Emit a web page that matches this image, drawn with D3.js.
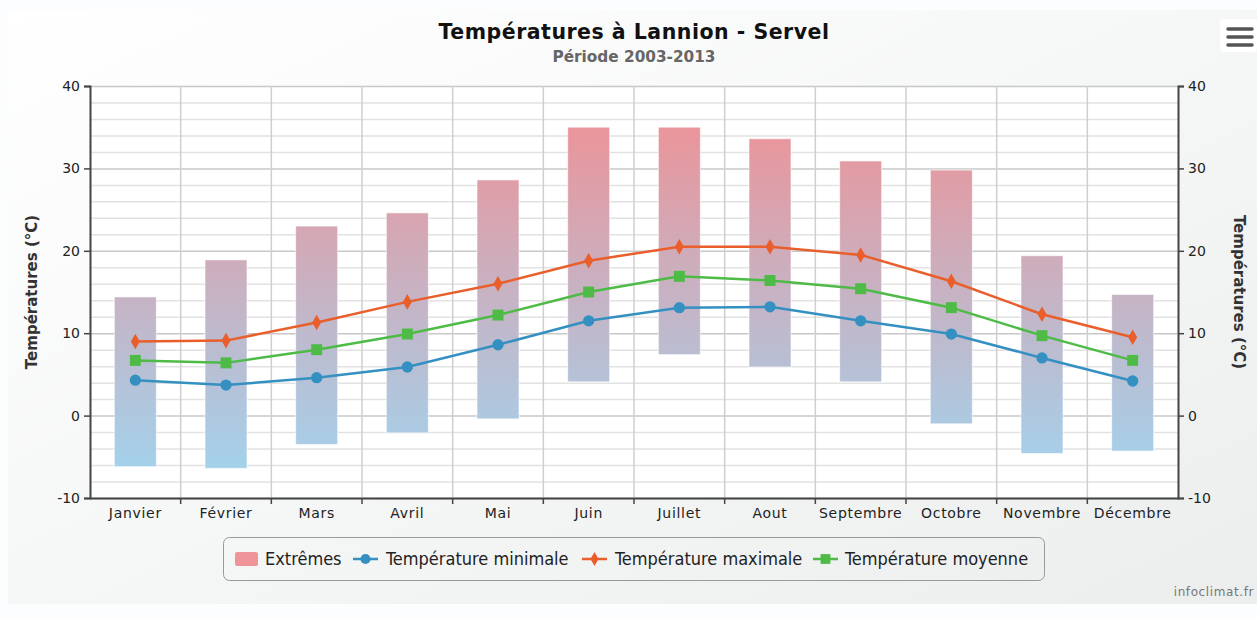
<!DOCTYPE html>
<html><head><meta charset="utf-8">
<script src="https://cdn.jsdelivr.net/npm/d3@7/dist/d3.min.js"></script>
<style>html,body{margin:0;padding:0;background:#fff;}svg{display:block;}</style>
</head><body><svg id="c" width="1257" height="619"></svg>
<script>
const months = ["Janvier","Février","Mars","Avril","Mai","Juin","Juillet","Aout","Septembre","Octobre","Novembre","Décembre"];
const extremeLow  = [-6.2,-6.4,-3.5,-2.1,-0.4,4.1,7.4,5.9,4.1,-1.0,-4.6,-4.3];
const extremeHigh = [14.4,18.9,23.0,24.6,28.6,35.0,35.0,33.6,30.9,29.8,19.4,14.7];
const tempMin  = [4.3,3.7,4.6,5.9,8.6,11.5,13.1,13.2,11.5,9.9,7.0,4.2];
const tempMax  = [9.0,9.1,11.3,13.8,16.0,18.8,20.5,20.5,19.5,16.3,12.3,9.5];
const tempMean = [6.7,6.4,8.0,9.9,12.2,15.0,16.9,16.4,15.4,13.1,9.7,6.7];
const yTicks = [-10,0,10,20,30,40];
const legendLabels = ["Extrêmes","Température minimale","Température maximale","Température moyenne"];

const svg = d3.select("#c");
const defs = svg.append("defs");
const bg = defs.append("linearGradient").attr("id","bg").attr("x1","0").attr("y1","0").attr("x2","1").attr("y2","1");
bg.append("stop").attr("offset","0").attr("stop-color","#ffffff");
bg.append("stop").attr("offset","1").attr("stop-color","#eceeee");

const L=90,R=1178,T=86,B=498;
const x = d3.scaleBand().domain(months).range([L,R]);
const y = d3.scaleLinear().domain([-10,40]).range([B,T]);

const bar = defs.append("linearGradient").attr("id","bar").attr("gradientUnits","userSpaceOnUse")
  .attr("x1",0).attr("x2",0).attr("y1",y(36)).attr("y2",y(-7));
bar.append("stop").attr("offset","0").attr("stop-color","#ec9398");
bar.append("stop").attr("offset","0.5").attr("stop-color","#c6b3c4");
bar.append("stop").attr("offset","1").attr("stop-color","#a3d2ec");

svg.append("rect").attr("width",1257).attr("height",619).attr("fill","#fbfdff");
svg.append("rect").attr("x",8).attr("y",10).attr("width",1249).attr("height",594).attr("fill","url(#bg)");
svg.append("rect").attr("x",L).attr("y",T).attr("width",R-L).attr("height",B-T).attr("fill","#fff");

// grid
const g = svg.append("g");
g.selectAll(".minor").data(d3.range(-10,41,2).filter(v=>v%10!==0)).join("line")
  .attr("x1",L).attr("x2",R).attr("y1",d=>y(d)+0.5).attr("y2",d=>y(d)+0.5)
  .attr("stroke","#e2e2e2").attr("stroke-width",1.5);
g.selectAll(".major").data(yTicks).join("line")
  .attr("x1",L).attr("x2",R).attr("y1",d=>y(d)+0.5).attr("y2",d=>y(d)+0.5)
  .attr("stroke","#c8c8c8").attr("stroke-width",1.5);
g.selectAll(".vg").data(months.slice(1)).join("line")
  .attr("x1",d=>x(d)).attr("x2",d=>x(d)).attr("y1",T).attr("y2",B)
  .attr("stroke","#cfcfcf").attr("stroke-width",1.5);

// bars
const bw = 42;
svg.append("g").selectAll("rect").data(months).join("rect")
  .attr("x",(d,i)=>x(d)+x.bandwidth()/2-bw/2)
  .attr("y",(d,i)=>y(extremeHigh[i]))
  .attr("width",bw)
  .attr("height",(d,i)=>y(extremeLow[i])-y(extremeHigh[i]))
  .attr("fill","url(#bar)").attr("stroke","#fff").attr("stroke-opacity",0.6).attr("stroke-width",1);

// axes
const font = "'DejaVu Sans', sans-serif";
const fmt = d=>String(d);
const axL = svg.append("g").attr("transform",`translate(${L},0)`)
  .call(d3.axisLeft(y).tickValues(yTicks).tickFormat(fmt).tickSize(6).tickPadding(4));
const axR = svg.append("g").attr("transform",`translate(${R},0)`)
  .call(d3.axisRight(y).tickValues(yTicks).tickFormat(fmt).tickSize(6).tickPadding(4));
const axB = svg.append("g").attr("transform",`translate(0,${B})`)
  .call(d3.axisBottom(x).tickSize(0).tickPadding(10));
[axL,axR,axB].forEach(a=>{
  a.select(".domain").attr("stroke","#444").attr("stroke-width",2);
  a.selectAll(".tick line").attr("stroke","#444").attr("stroke-width",1.5);
  a.selectAll("text").attr("font-family",font).attr("font-size",14).attr("fill","#222");
});
axB.selectAll("text").attr("letter-spacing","0.7px");
svg.append("g").selectAll("line").data(months.slice(1)).join("line")
  .attr("x1",d=>x(d)).attr("x2",d=>x(d)).attr("y1",B).attr("y2",B+6)
  .attr("stroke","#444").attr("stroke-width",1.5);

// axis titles
svg.append("text").attr("transform",`translate(37,${(T+B)/2}) rotate(-90)`)
  .attr("text-anchor","middle").attr("font-family",font).attr("font-weight","bold")
  .attr("font-size",15).attr("fill","#333").text("Températures (°C)");
svg.append("text").attr("transform",`translate(1234,${(T+B)/2}) rotate(90)`)
  .attr("text-anchor","middle").attr("font-family",font).attr("font-weight","bold")
  .attr("font-size",15).attr("fill","#333").text("Températures (°C)");

// lines
const cx = (d,i)=>x(months[i])+x.bandwidth()/2;
const series = [
  {vals:tempMin, color:"#3590c2", sym:d3.symbolCircle, size:100},
  {vals:tempMax, color:"#e95e2b", sym:d3.symbolDiamond, size:70},
  {vals:tempMean, color:"#4dbb46", sym:d3.symbolSquare, size:120}
];
series.forEach(s=>{
  svg.append("path").datum(s.vals)
    .attr("d",d3.line().x(cx).y(d=>y(d)))
    .attr("fill","none").attr("stroke",s.color).attr("stroke-width",2.5);
  svg.append("g").selectAll("path").data(s.vals).join("path")
    .attr("transform",(d,i)=>`translate(${cx(d,i)},${y(d)})`)
    .attr("d",d3.symbol().type(s.sym).size(s.size)).attr("fill",s.color);
});

// title
svg.append("text").attr("x",634).attr("y",39).attr("text-anchor","middle")
  .attr("font-family",font).attr("font-weight","bold").attr("font-size",20.5).attr("letter-spacing","0.5px").attr("fill","#111")
  .text("Températures à Lannion - Servel");
svg.append("text").attr("x",634).attr("y",62).attr("text-anchor","middle")
  .attr("font-family",font).attr("font-weight","bold").attr("font-size",15.3).attr("fill","#666")
  .text("Période 2003-2013");

// menu icon
const mi = svg.append("g");
mi.append("rect").attr("x",1220).attr("y",19).attr("width",37).attr("height",33).attr("rx",4).attr("fill","#fff");
[29,37,45].forEach(v=>mi.append("line").attr("x1",1228).attr("x2",1252).attr("y1",v).attr("y2",v)
  .attr("stroke","#555").attr("stroke-width",3.5).attr("stroke-linecap","round"));

// legend
const lg = svg.append("g");
lg.append("rect").attr("x",223.5).attr("y",537.5).attr("width",821).attr("height",43).attr("rx",6)
  .attr("fill","none").attr("stroke","#999").attr("stroke-width",1);
const lfont = "'DejaVu Sans Condensed','DejaVu Sans',sans-serif";
const ly = 559;
const itemX = [235, 353, 582, 813];
const textX = [265, 386, 615, 845];
lg.append("rect").attr("x",itemX[0]).attr("y",ly-7).attr("width",23).attr("height",14).attr("rx",2).attr("fill","#ef9499");
[series[0],series[1],series[2]].forEach((s,k)=>{
  const x0 = itemX[k+1];
  lg.append("line").attr("x1",x0).attr("x2",x0+25).attr("y1",ly).attr("y2",ly).attr("stroke",s.color).attr("stroke-width",2.5);
  lg.append("path").attr("transform",`translate(${x0+12.5},${ly})`)
    .attr("d",d3.symbol().type(s.sym).size(s.size*0.8)).attr("fill",s.color);
});
legendLabels.forEach((t,k)=>{
  lg.append("text").attr("x",textX[k]).attr("y",ly+6).attr("font-family",lfont).attr("font-size",18)
    .attr("fill","#222").text(t);
});

svg.append("text").attr("x",1254).attr("y",596).attr("text-anchor","end")
  .attr("font-family",font).attr("font-size",12).attr("letter-spacing","0.6px").attr("fill","#777").text("infoclimat.fr");
</script></body></html>
